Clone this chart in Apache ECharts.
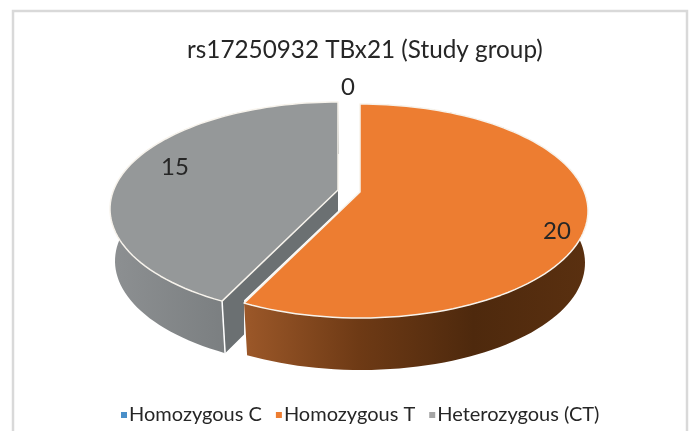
<!DOCTYPE html>
<html>
<head>
<meta charset="utf-8">
<style>
  html, body { margin: 0; padding: 0; background: #fff; }
  #main { width: 691px; height: 431px; }
</style>
</head>
<body>
<div id="main"></div>
<script src="https://cdn.jsdelivr.net/npm/echarts@6/dist/echarts.min.js"></script>
<script>
const titleText = 'rs17250932 TBx21 (Study group)'
const categories = ['Homozygous C', 'Homozygous T', 'Heterozygous (CT)']
const values = [0, 20, 15]
const colors = ['#4a8fc9', '#ed7d31', '#a5a5a5']

const total = values.reduce((a, b) => a + b, 0)
const textColor = '#262626'
const fontName = 'Lato'

// look of each slice: where the exploded slice sits, and its shading
const sliceStyle = [
  { top: [349, 210], bottom: [350, 262], label: [-1, -123], top_fill: '#5b9bd5', stops: ['#5b9bd5', '#5b9bd5'] },
  { top: [360, 211], bottom: [361, 263], label: [197, 20], top_fill: '#ed7d31',
    stops: ['#9c5829', '#6e3a15', '#4e290d', '#5a3010'] },
  { top: [338, 209], bottom: [339, 261], label: [-163, -42], top_fill: '#959899',
    stops: ['#8d9092', '#7b7f81', '#6b6f71'] }
]
const topR = [228, 107]
const bottomR = [224, 107]
const tilt = 0.178 // pulls the slice tip back, gives the perspective look

// angle in degrees, clockwise from 12 o'clock, to a point on the tilted disc
function rimPoint (deg, c, r) {
  const a = deg * Math.PI / 180
  const u = Math.sin(a)
  const v = -Math.cos(a)
  const d = 1 - tilt * v
  return [
    c[0] + r[0] * u * Math.sqrt(1 - tilt * tilt) / d,
    c[1] + r[1] * (v - tilt) / d
  ]
}
function rim (from, to, c, r) {
  const pts = []
  const n = Math.max(2, Math.ceil((to - from) / 2))
  for (let i = 0; i <= n; i++) {
    pts.push(rimPoint(from + (to - from) * i / n, c, r))
  }
  return pts
}
function startAngle (index) {
  let sum = 0
  for (let i = 0; i < index; i++) sum += values[i]
  return sum / total * 360
}
function shade (stops, x0, x2) {
  return new echarts.graphic.LinearGradient(x0, 0, x2, 0,
    stops.map((color, i) => ({ offset: i / (stops.length - 1), color })), true)
}

function renderSlice (index) {
  const s = sliceStyle[index]
  const from = startAngle(index)
  const to = from + values[index] / total * 360
  const children = []
  if (values[index] > 0) {
    const apex = [s.top[0], s.top[1] - tilt * topR[1]]
    const topRim = rim(from, to, s.top, topR)
    const bottomRim = rim(from, to, s.bottom, bottomR)
    const xs = topRim.concat(bottomRim).map(p => p[0])
    // outer wall
    children.push({
      type: 'polygon',
      shape: { points: topRim.concat(bottomRim.slice().reverse()) },
      style: { fill: shade(s.stops, Math.min(...xs), Math.max(...xs)) }
    })
    if (index === 2) {
      // cut face of the grey slice, the orange slice hides its lower part
      const corner = topRim[0]
      const cornerLow = bottomRim[0]
      const other = sliceStyle[1]
      const otherEnd = rimPoint(from, other.top, topR)
      const t = (otherEnd[0] - cornerLow[0]) / (apex[0] - cornerLow[0])
      children.push({
        type: 'polygon',
        shape: {
          points: [
            apex,
            corner,
            cornerLow,
            [otherEnd[0], cornerLow[1] + (apex[1] + 52 - cornerLow[1]) * t],
            [otherEnd[0], otherEnd[1] - 3],
            [apex[0], apex[1] + 21]
          ]
        },
        style: { fill: '#6b7072' }
      })
      children.push({
        type: 'line',
        shape: { x1: corner[0], y1: corner[1], x2: cornerLow[0], y2: cornerLow[1] },
        style: { stroke: '#ffffff', lineWidth: 1.5 }
      })
    }
    // top face
    children.push({
      type: 'polygon',
      shape: { points: [apex].concat(topRim) },
      style: { fill: s.top_fill, stroke: '#f7f3ec', lineWidth: 1.5, lineJoin: 'round' }
    })
  }
  children.push({
    type: 'text',
    style: {
      text: String(values[index]),
      x: s.top[0] + s.label[0],
      y: s.top[1] + s.label[1],
      align: 'center',
      verticalAlign: 'middle',
      fill: textColor,
      fontFamily: fontName,
      fontSize: 24
    }
  })
  return { type: 'group', children }
}

const chart = echarts.init(document.getElementById('main'), null, { renderer: 'canvas' })
chart.setOption({
  animation: false,
  backgroundColor: '#ffffff',
  title: {
    text: titleText,
    left: 182,
    top: 33,
    textStyle: { color: textColor, fontFamily: fontName, fontSize: 24.3, fontWeight: 'normal' }
  },
  graphic: [{
    type: 'rect',
    silent: true,
    shape: { x: 13, y: 11, width: 674, height: 430 },
    style: { fill: 'none', stroke: '#d9d9d9', lineWidth: 2.5 }
  }],
  legend: {
    data: categories,
    top: 400,
    left: 116,
    icon: 'rect',
    itemWidth: 6,
    itemHeight: 6,
    itemGap: 14,
    textStyle: { color: textColor, fontFamily: fontName, fontSize: 20, padding: [0, 0, 0, -3] }
  },
  series: categories.map((name, index) => ({
    type: 'custom',
    name,
    coordinateSystem: 'none',
    z: index === 1 ? 4 : 3,
    itemStyle: { color: colors[index] },
    data: [values[index]],
    renderItem: () => renderSlice(index)
  }))
})
</script>
</body>
</html>
